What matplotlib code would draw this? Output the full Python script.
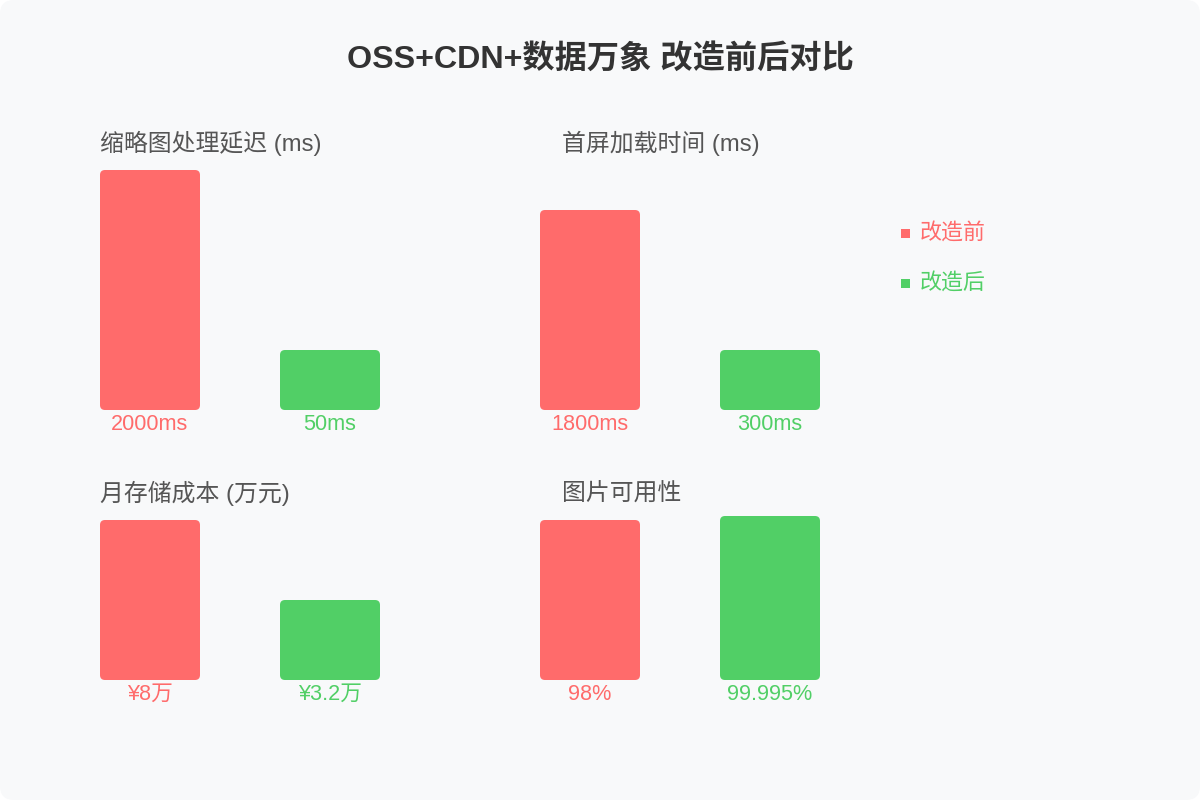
import matplotlib
matplotlib.use('Agg')
import matplotlib.pyplot as plt
from matplotlib.patches import FancyBboxPatch

plt.rcParams['font.family'] = ['Liberation Sans', 'Noto Sans CJK SC', 'DejaVu Sans']

# data
titles = ['缩略图处理延迟 (ms)', '首屏加载时间 (ms)', '月存储成本 (万元)', '图片可用性']
before_labels = ['2000ms', '1800ms', '¥8万', '98%']
after_labels = ['50ms', '300ms', '¥3.2万', '99.995%']
# bar lengths as drawn in the picture (not proportional to the values)
before_len = [240, 200, 160, 160]
after_len = [60, 60, 80, 164]
series = ['改造前', '改造后']

RED = '#ff6b6b'
GREEN = '#51cf66'

fig = plt.figure(figsize=(12, 8), dpi=100, facecolor='white')
ax = fig.add_axes([0, 0, 1, 1])
ax.set_xlim(0, 1200)
ax.set_ylim(800, 0)
ax.axis('off')

ax.add_patch(FancyBboxPatch((0, 0), 1200, 800, boxstyle='round,pad=0,rounding_size=14',
                            fc='#f8f9fa', ec='none'))

ax.text(600, 59, 'OSS+CDN+数据万象 改造前后对比', ha='center', va='center',
        fontsize=23.2, fontweight='bold', color='#333333')

# panel layout: (left x, baseline y)
panels = [(100, 410), (540, 410), (100, 680), (540, 680)]
bw = 100
gap = 180

for i, (x0, base) in enumerate(panels):
    ty = 143 if i < 2 else 493
    tx = x0 if i % 2 == 0 else x0 + 22
    ax.text(tx, ty, titles[i], ha='left', va='center', fontsize=17.2, color='#555555')
    for j, (h, lab, col) in enumerate([(before_len[i], before_labels[i], RED),
                                       (after_len[i], after_labels[i], GREEN)]):
        x = x0 + j * gap
        ax.add_patch(FancyBboxPatch((x, base - h), bw, h,
                                    boxstyle='round,pad=0,rounding_size=5',
                                    fc=col, ec='none'))
        ax.text(x + bw / 2, base + 14, lab, ha='center', va='center',
                fontsize=15.6, color=col)

# legend
for k, (name, col) in enumerate(zip(series, [RED, GREEN])):
    y = 233 + k * 50
    ax.add_patch(plt.Rectangle((901, y - 4.5), 9, 9, fc=col, ec='none'))
    ax.text(920, y, name, ha='left', va='center', fontsize=15.8, color=col)

fig.savefig('out.png', dpi=100, facecolor='white')
